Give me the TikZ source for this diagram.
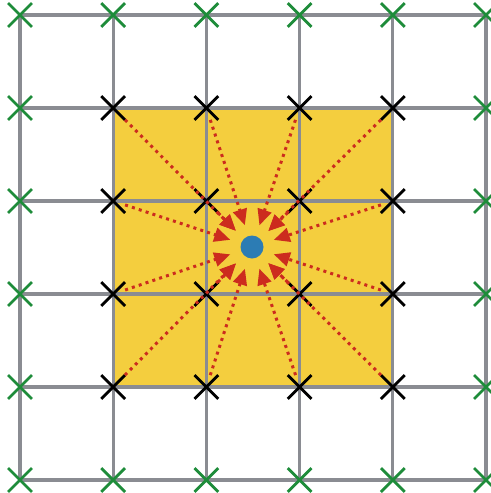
\documentclass[tikz,border=0pt]{standalone}
\usetikzlibrary{arrows.meta,shapes.misc,backgrounds}
\definecolor{gridgray}{RGB}{138,140,146}
\definecolor{cellyellow}{RGB}{244,206,62}
\definecolor{ptgreen}{RGB}{30,140,58}
\definecolor{arrred}{RGB}{204,44,30}
\definecolor{dotblue}{RGB}{44,124,180}
\begin{document}
\begin{tikzpicture}[
  x=0.5pt,y=-0.5pt,
  gridline/.style={draw=gridgray,line width=1.6pt},
  xpt/.style={cross out,draw,line width=1.4pt,minimum size=10.5pt,inner sep=0pt},
  edgept/.style={xpt,draw=ptgreen},
  innerpt/.style={xpt,draw=black},
  target/.style={circle,fill=dotblue,minimum size=11.5pt,inner sep=0pt},
  pull/.style={draw=arrred,line width=1.5pt,dash pattern=on 1.5pt off 2.1pt,
    -{Triangle[length=8pt,width=7pt]},shorten >=5.5pt}
]
\useasboundingbox (0,0) rectangle (491,493);
% sample points
\foreach \i in {0,...,5}
  \foreach \j in {0,...,5}{
    \pgfmathtruncatemacro\inside{(\i>0)&&(\i<5)&&(\j>0)&&(\j<5)}
    \ifnum\inside=1
      \node[innerpt] (p\i\j) at ({20+93.2*\i},{15+93*\j}) {};
    \else
      \node[edgept] (p\i\j) at ({20+93.2*\i},{15+93*\j}) {};
    \fi
  }
\node[target] (q) at (252,247) {};
% cell and grid
\begin{scope}[on background layer]
  \fill[cellyellow] (p11.center) rectangle (p44.center);
  \foreach \k in {0,...,5}{
    \draw[gridline] (p0\k.center) -- (p5\k.center);
    \draw[gridline] (p\k0.center) -- (p\k5.center);
  }
\end{scope}
% contributions
\foreach \i in {1,...,4}
  \foreach \j in {1,...,4}
    \draw[pull] (p\i\j) -- (q);
\end{tikzpicture}
\end{document}
